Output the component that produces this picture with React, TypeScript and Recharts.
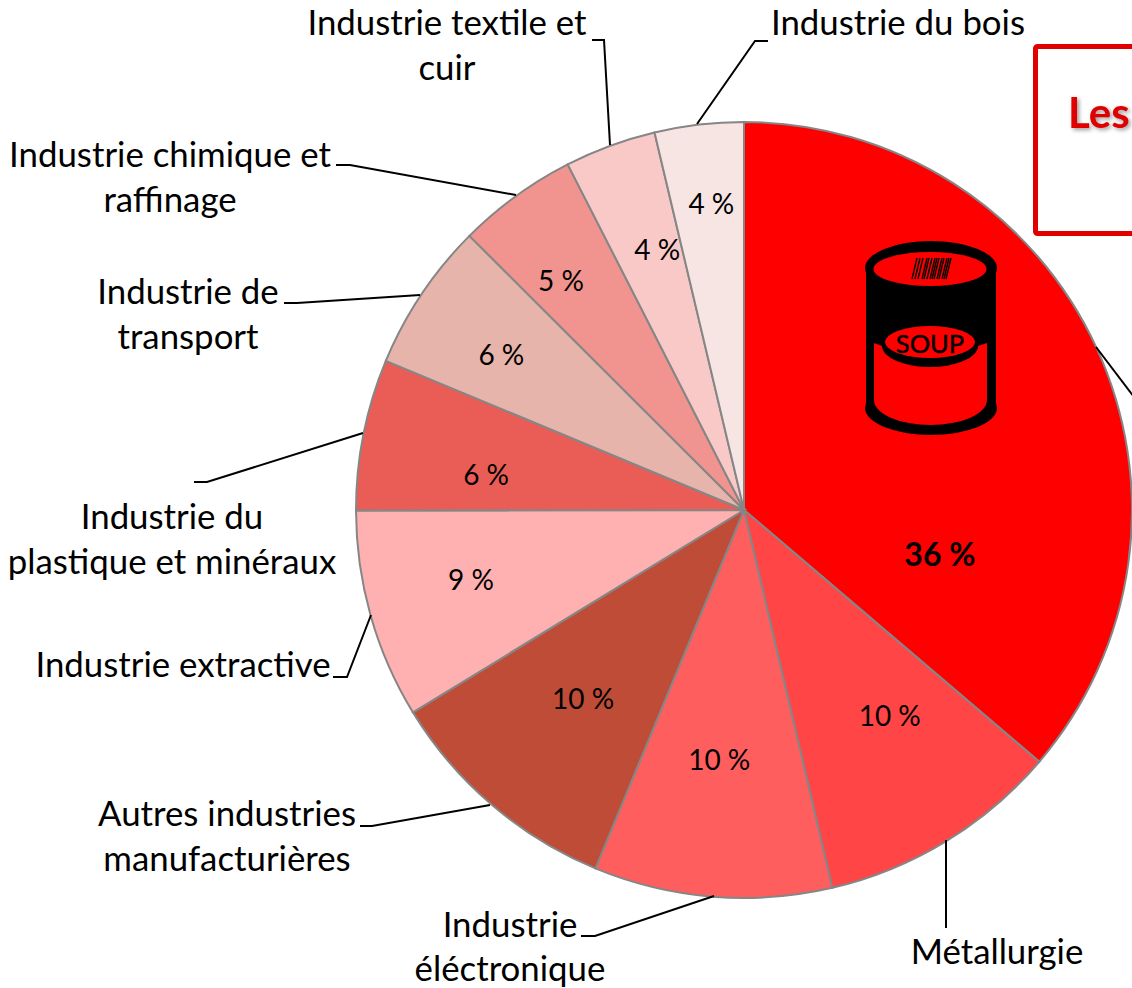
import { PieChart, Pie, Cell } from "recharts";

const FONT = "Lato, 'Open Sans', sans-serif";

const categories = [
    "Industrie agroalimentaire",
    "Métallurgie",
    "Industrie éléctronique",
    "Autres industries manufacturières",
    "Industrie extractive",
    "Industrie du plastique et minéraux",
    "Industrie de transport",
    "Industrie chimique et raffinage",
    "Industrie textile et cuir",
    "Industrie du bois",
];
const values = [36.2, 10.1, 9.9, 10, 8.7, 6.3, 6.2, 5, 3.8, 3.7];
const percentLabels = ["36 %", "10 %", "10 %", "10 %", "9 %", "6 %", "6 %", "5 %", "4 %", "4 %"];
const colors = [
    "#ff0000", "#ff4545", "#ff5e5e", "#bf4c36", "#ffb0b0",
    "#ea5d56", "#e6b4aa", "#f19490", "#f9c9c7", "#f7e5e3",
];

// placement of the percent text: fraction of the radius, degrees clockwise off the slice middle
const percentRadius = [0.517, 0.649, 0.645, 0.638, 0.726, 0.671, 0.744, 0.757, 0.709, 0.796];
const percentNudge = [37.2, -4, 1, 0, 1.5, -3.4, -1, -2.5, 1.8, 0.6];

// leader lines and their wrapped text, in page pixels
const callouts = [
    { line: "1096,347 1140,405", lines: [], x: 0, y: [] },
    { line: "946,840 946,928", lines: ["Métallurgie"], x: 997, y: [950.5] },
    { line: "714,896 595,936 581,936", lines: ["Industrie", "éléctronique"], x: 510, y: [923.5, 967.5] },
    { line: "490,805 372,826 360,826", lines: ["Autres industries", "manufacturières"], x: 227, y: [812.5, 857.5] },
    { line: "371,615 347,677 333,677", lines: ["Industrie extractive"], x: 183, y: [663.5] },
    { line: "363,433 207,482 194,482", lines: ["Industrie du", "plastique et minéraux"], x: 172, y: [515.5, 560.5] },
    { line: "420,295 297,303 284,303", lines: ["Industrie de", "transport"], x: 188, y: [290.5, 335.5] },
    { line: "516,195 350,165 336,165", lines: ["Industrie chimique et", "raffinage"], x: 170, y: [153.5, 198.5] },
    { line: "610,145 604,40 592,40", lines: ["Industrie textile et", "cuir"], x: 447, y: [21.5, 66.5] },
    { line: "697,124 755,41 768,41", lines: ["Industrie du bois"], x: 898, y: [21.5] },
];

const barcode = [0, 3, 6, 10, 12, 15, 18, 20, 22, 25, 27, 30, 32, 34];

const data = categories.map((name, i) => ({ name, value: values[i] }));

function SoupCan() {
    return (
        <g>
            <ellipse cx={931} cy={268} rx={66} ry={27} fill="#000" />
            <ellipse cx={931} cy={408} rx={66} ry={27} fill="#000" />
            <rect x={866} y={268} width={130} height={140} fill="#000" />
            <ellipse cx={930} cy={269} rx={56.5} ry={17} fill="#ff0000" />
            <path d="M874,343 L874,400 A56.5,25 0 0 0 987,400 L987,343 L978,346 A48,21 0 0 1 882,346 Z" fill="#ff0000" />
            <ellipse cx={930} cy={342} rx={45} ry={16} fill="#ff0000" />
            {barcode.map((b) => (
                <line key={b} x1={917 + b} y1={258} x2={912 + b} y2={279} stroke="#000" strokeWidth={1.4} />
            ))}
            <text x={930} y={343} textAnchor="middle" dominantBaseline="central" fontFamily={FONT} fontSize={25.5} stroke="#000" strokeWidth={0.5} fill="#000">
                SOUP
            </text>
        </g>
    );
}

function renderLabel(props: any) {
    const { cx, cy, midAngle, outerRadius, index } = props;
    const angle = ((midAngle - percentNudge[index]) * Math.PI) / 180;
    const r = outerRadius * percentRadius[index];
    const c = callouts[index];
    return (
        <g>
            {index === 0 && <SoupCan />}
            <polyline points={c.line} fill="none" stroke="#000" strokeWidth={2} />
            {c.lines.map((t, k) => (
                <text key={k} x={c.x} y={c.y[k]} textAnchor="middle" dominantBaseline="central" fontFamily={FONT} fontSize={34.8} fill="#000">
                    {t}
                </text>
            ))}
            <text
                x={cx + r * Math.cos(angle)}
                y={cy - r * Math.sin(angle)}
                textAnchor="middle"
                dominantBaseline="central"
                fontFamily={FONT}
                fontSize={index === 0 ? 32 : 28}
                fontWeight={index === 0 ? 700 : 400}
                fill="#000"
            >
                {percentLabels[index]}
            </text>
        </g>
    );
}

function TitleBox() {
    return (
        <g>
            <rect x={1035.5} y={46.5} width={140} height={187} rx={2} fill="#fff" stroke="#e00000" strokeWidth={5} />
            <text x={1068} y={128} fontFamily={FONT} fontSize={42} fontWeight={700} fill="#e00000" style={{ filter: "drop-shadow(2px 2px 2px #999)" }}>
                Les
            </text>
        </g>
    );
}

export default function App() {
    return (
        <div style={{ position: "absolute", left: 0, top: 0 }}>
            <PieChart width={1132} height={988} margin={{ top: 0, right: 0, bottom: 0, left: 0 }}>
                <TitleBox />
                <Pie
                    data={data}
                    cx={744}
                    cy={510}
                    outerRadius={388}
                    startAngle={90}
                    endAngle={-270}
                    dataKey="value"
                    stroke="#868686"
                    strokeWidth={2}
                    label={renderLabel}
                    labelLine={false}
                    isAnimationActive={false}
                >
                    {data.map((_, i) => (
                        <Cell key={i} fill={colors[i]} />
                    ))}
                </Pie>
            </PieChart>
        </div>
    );
}
